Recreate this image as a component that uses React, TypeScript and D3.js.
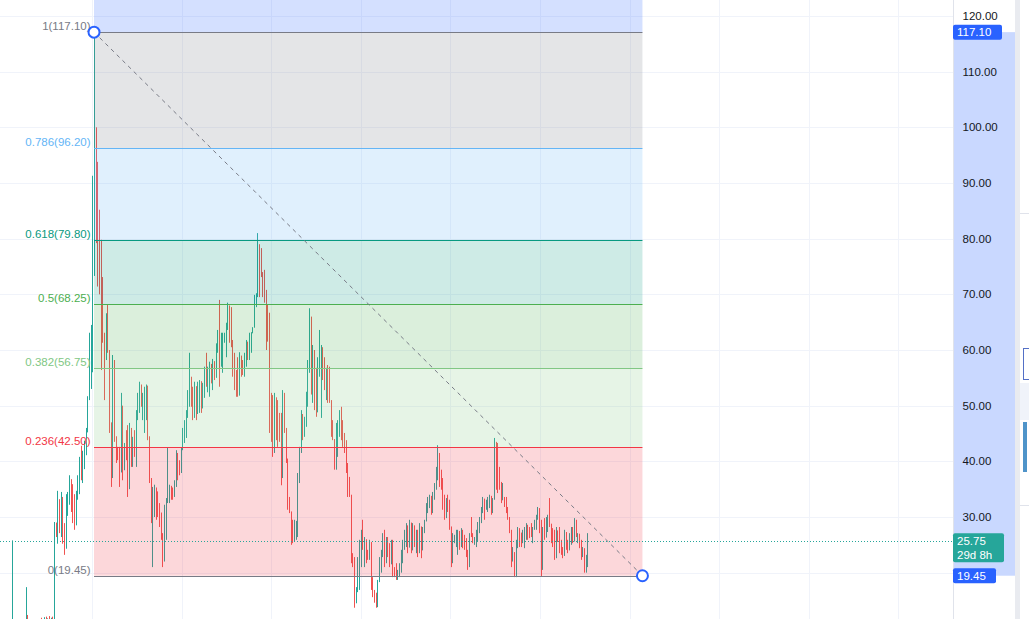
import { useEffect, useRef } from 'react'
import * as d3 from 'd3'

const W = 1029
const H = 619
const PLOT_RIGHT = 953

// candles, one per bar; open of a bar is the previous close
const firstOpen = 8.0
const highs = [
  25.8, 11.5, 10.8, 10.5, 9.8, 10.2, 10.6, 10.1, 17.4, 12.0,
  11.2, 11.6, 10.9, 10.4, 11.0, 11.5, 11.2, 11.9, 11.4, 12.0,
  12.1, 11.8, 12.2, 11.9, 12.1, 29.1, 29.0, 34.7, 32.5, 34.5,
  30.9, 28.9, 34.1, 34.5, 37.5, 36.3, 35.9, 34.1, 34.7, 37.5,
  40.8, 42.8, 41.9, 43.7, 46.0, 51.7, 63.1, 64.5, 91.3, 117.1,
  99.5, 93.8, 85.2, 79.8, 73.1, 63.1, 66.6, 68.1, 59.5, 46.9,
  59.1, 58.2, 44.4, 42.6, 42.6, 52.3, 48.7, 43.3, 45.6, 46.5,
  46.9, 46.0, 44.4, 45.6, 49.2, 52.3, 54.3, 53.4, 52.3, 53.4,
  53.8, 51.9, 44.4, 36.1, 35.4, 35.8, 34.9, 34.4, 32.5, 30.8,
  27.1, 32.2, 33.4, 42.4, 35.8, 35.4, 35.2, 36.6, 42.0, 40.6,
  40.2, 42.4, 46.0, 47.4, 49.2, 52.8, 59.5, 55.2, 53.4, 54.3,
  52.3, 54.3, 54.6, 53.4, 54.1, 57.0, 59.5, 57.0, 57.9, 57.0,
  58.4, 56.8, 61.2, 63.6, 69.0, 63.1, 63.1, 63.1, 64.9, 68.5,
  67.7, 67.7, 61.8, 59.5, 56.4, 58.7, 59.6, 58.7, 58.2, 59.5,
  61.8, 61.3, 63.1, 63.2, 64.1, 69.9, 70.2, 81.0, 78.3, 78.3,
  71.7, 74.4, 70.8, 68.1, 66.7, 52.3, 51.9, 52.3, 51.0, 51.0,
  48.7, 48.7, 52.8, 52.3, 45.6, 38.5, 33.6, 30.7, 29.5, 29.5,
  29.3, 37.9, 42.6, 49.2, 47.4, 48.0, 52.5, 58.2, 67.5, 61.3,
  60.9, 58.6, 56.8, 58.7, 63.6, 60.9, 60.5, 58.7, 56.8, 57.3,
  57.0, 50.5, 47.4, 43.8, 46.9, 47.4, 49.2, 49.8, 47.4, 45.1,
  43.8, 39.7, 37.2, 30.0, 23.5, 22.8, 17.4, 22.8, 25.9, 27.7,
  29.5, 26.4, 25.3, 24.1, 25.9, 23.5, 19.2, 16.9, 16.4, 18.7,
  22.8, 24.1, 27.1, 27.7, 26.4, 26.4, 25.3, 25.9, 25.9, 21.0,
  21.7, 20.5, 21.7, 24.1, 25.9, 27.7, 28.9, 27.7, 29.5, 28.9,
  28.9, 28.2, 27.7, 27.7, 28.9, 26.4, 28.2, 29.5, 32.5, 33.6,
  34.0, 33.6, 34.5, 36.1, 39.0, 42.9, 40.8, 38.5, 37.0, 34.0,
  33.4, 34.0, 33.1, 27.1, 27.1, 26.8, 27.7, 27.7, 27.3, 28.0,
  26.2, 26.8, 26.2, 24.1, 27.1, 30.0, 27.1, 26.4, 27.7, 29.1,
  30.0, 31.8, 33.6, 32.5, 33.1, 33.6, 34.0, 33.6, 33.4, 44.2,
  43.3, 43.3, 39.0, 36.3, 36.1, 33.6, 33.6, 31.8, 30.0, 27.7,
  24.6, 23.7, 25.9, 28.2, 28.0, 27.1, 27.7, 28.2, 28.9, 28.5,
  27.7, 28.9, 28.2, 29.5, 30.4, 31.8, 31.6, 29.5, 28.2, 29.8,
  30.0, 30.4, 33.4, 28.2, 28.0, 27.7, 28.2, 27.3, 28.2, 25.9,
  24.6, 27.7, 26.2, 25.9, 27.1, 28.2, 28.2, 29.8, 29.5, 27.1,
  26.2, 25.9, 24.6, 24.4, 23.2, 27.1,
]
const lows = [
  7.5, 8.0, 7.6, 8.2, 7.9, 8.4, 8.9, 8.5, 9.3, 9.8,
  9.5, 9.9, 9.2, 8.8, 9.6, 10.0, 9.7, 10.3, 9.9, 10.5,
  10.7, 10.2, 10.8, 10.4, 10.9, 10.8, 26.4, 25.2, 27.1, 26.4,
  25.2, 23.2, 24.3, 30.2, 32.2, 30.9, 28.9, 27.7, 28.5, 33.1,
  34.1, 36.6, 36.1, 38.6, 41.1, 45.2, 51.0, 53.0, 56.0, 73.3,
  79.2, 71.4, 70.0, 56.4, 61.3, 51.0, 58.2, 59.5, 45.1, 35.4,
  37.0, 43.5, 39.7, 40.2, 35.4, 38.0, 36.6, 38.4, 40.2, 33.6,
  35.0, 39.0, 39.0, 40.8, 39.0, 47.4, 48.7, 49.8, 47.4, 45.1,
  47.4, 43.8, 36.1, 28.9, 21.0, 30.0, 29.5, 30.0, 28.2, 25.9,
  21.0, 22.0, 25.9, 32.5, 32.5, 33.1, 33.1, 33.6, 35.4, 36.6,
  37.5, 37.9, 42.0, 43.3, 44.2, 47.8, 49.8, 49.8, 47.4, 47.8,
  47.4, 49.2, 48.7, 48.7, 49.8, 51.4, 53.4, 52.4, 51.6, 54.0,
  52.8, 54.6, 57.0, 59.5, 53.4, 57.0, 55.9, 61.3, 58.7, 63.6,
  61.3, 60.5, 55.2, 52.8, 51.6, 51.6, 55.9, 55.2, 55.5, 55.2,
  57.0, 58.2, 58.2, 59.5, 63.1, 67.7, 67.7, 69.5, 69.5, 73.1,
  69.5, 68.5, 60.0, 61.5, 45.1, 43.5, 40.8, 41.5, 43.8, 42.6,
  43.5, 35.7, 37.9, 45.1, 39.7, 31.3, 30.7, 25.0, 25.3, 25.9,
  25.9, 26.4, 36.1, 41.5, 43.8, 44.4, 46.2, 49.8, 55.9, 52.0,
  50.5, 49.2, 48.0, 49.8, 55.2, 47.8, 54.6, 52.8, 51.0, 50.5,
  50.5, 44.4, 43.8, 38.5, 38.5, 40.8, 44.4, 43.8, 42.6, 41.5,
  37.9, 33.6, 33.6, 21.7, 21.0, 13.7, 14.5, 16.5, 16.9, 21.0,
  24.1, 21.0, 21.7, 22.3, 22.3, 16.9, 15.6, 14.6, 13.7, 13.8,
  18.7, 20.0, 22.8, 21.0, 21.7, 22.8, 21.0, 21.7, 19.2, 19.2,
  18.7, 18.7, 19.2, 20.0, 21.7, 24.1, 24.6, 23.5, 25.3, 23.5,
  25.3, 24.6, 23.5, 22.8, 25.3, 22.6, 24.6, 27.1, 29.5, 30.7,
  31.6, 30.4, 30.7, 33.1, 34.9, 36.6, 35.4, 34.9, 31.3, 29.5,
  29.8, 30.9, 27.7, 21.0, 21.7, 25.3, 24.6, 23.2, 24.1, 25.9,
  24.4, 24.1, 22.8, 20.5, 23.7, 26.4, 25.3, 25.0, 24.6, 25.5,
  27.1, 28.9, 30.7, 29.5, 31.3, 30.9, 31.6, 30.4, 30.7, 33.1,
  34.9, 34.3, 34.9, 32.5, 33.1, 31.8, 30.7, 29.5, 27.1, 21.0,
  22.0, 19.2, 19.2, 24.4, 24.6, 24.6, 25.3, 24.4, 25.9, 25.9,
  26.2, 26.4, 25.3, 27.7, 27.7, 29.5, 27.1, 19.3, 24.6, 25.9,
  27.7, 27.3, 28.2, 25.3, 24.6, 22.3, 22.6, 25.5, 23.5, 23.2,
  22.6, 24.1, 24.1, 23.5, 24.4, 25.0, 25.3, 25.9, 26.4, 25.3,
  24.4, 22.3, 22.8, 20.0, 20.0, 21.0,
]
const closes = [
  11.0, 9.0, 10.0, 8.6, 9.4, 9.9, 9.1, 9.8, 12.4, 10.3,
  10.8, 10.1, 9.6, 10.2, 10.7, 10.4, 11.0, 10.6, 11.2, 11.6,
  11.0, 11.5, 11.2, 11.6, 11.3, 27.5, 26.8, 33.2, 28.0, 33.6,
  27.0, 24.6, 33.2, 34.2, 36.8, 35.5, 33.8, 28.5, 34.3, 37.0,
  40.3, 37.5, 41.4, 43.2, 45.6, 51.2, 62.0, 63.8, 88.0, 100.0,
  80.5, 74.0, 71.0, 66.0, 62.0, 58.5, 65.5, 60.0, 47.0, 37.0,
  56.0, 44.5, 42.5, 42.0, 38.0, 50.0, 38.5, 42.8, 41.0, 35.0,
  46.0, 40.0, 44.0, 41.5, 48.5, 51.8, 53.8, 50.3, 52.0, 53.0,
  53.6, 44.5, 37.0, 29.5, 34.5, 35.3, 34.6, 31.0, 29.0, 26.5,
  22.0, 31.5, 33.0, 35.0, 35.6, 35.3, 35.0, 36.3, 41.5, 39.5,
  38.0, 42.0, 45.6, 47.0, 48.8, 52.3, 54.5, 50.5, 48.0, 53.5,
  48.5, 53.8, 54.4, 49.5, 53.6, 56.5, 54.0, 56.5, 57.5, 55.0,
  58.0, 55.0, 61.0, 63.3, 58.0, 62.5, 63.0, 63.1, 64.5, 68.0,
  62.5, 61.0, 56.0, 53.5, 52.0, 51.8, 59.0, 56.0, 55.6, 59.0,
  61.5, 61.2, 62.8, 63.0, 64.0, 69.5, 70.0, 79.0, 77.0, 74.0,
  71.0, 69.0, 66.0, 62.0, 46.0, 44.0, 41.5, 51.5, 50.8, 44.0,
  43.8, 37.0, 51.5, 46.0, 40.5, 32.0, 31.0, 25.8, 25.5, 28.5,
  29.2, 37.0, 42.0, 48.5, 44.5, 47.5, 52.0, 57.5, 66.0, 53.0,
  60.0, 50.0, 48.8, 58.0, 60.0, 60.5, 56.0, 54.0, 56.4, 51.5,
  51.0, 45.0, 44.0, 39.0, 46.5, 47.0, 48.8, 44.2, 43.0, 42.0,
  38.5, 34.2, 34.0, 22.5, 21.5, 15.0, 17.0, 22.3, 25.5, 27.0,
  24.8, 26.0, 22.5, 22.3, 25.5, 18.0, 16.2, 15.0, 14.2, 18.3,
  22.5, 23.8, 26.8, 21.8, 26.0, 23.2, 21.5, 25.5, 20.0, 19.6,
  19.1, 20.3, 21.5, 23.8, 25.5, 27.3, 28.5, 24.5, 29.0, 24.0,
  28.5, 25.0, 27.4, 23.5, 28.3, 24.0, 27.8, 29.2, 32.2, 33.2,
  33.8, 31.0, 34.2, 35.8, 38.6, 41.5, 36.5, 35.3, 32.0, 30.0,
  33.0, 31.5, 28.3, 21.8, 25.5, 26.6, 27.3, 27.5, 24.6, 27.7,
  24.8, 24.4, 23.3, 21.0, 26.8, 26.6, 25.6, 26.2, 27.4, 28.8,
  29.8, 31.5, 33.3, 32.2, 32.9, 33.4, 33.8, 31.0, 33.1, 43.5,
  41.0, 38.5, 35.5, 33.0, 33.2, 32.2, 31.0, 29.8, 27.5, 22.0,
  23.5, 19.8, 25.5, 27.9, 27.2, 26.9, 27.5, 28.0, 28.6, 28.2,
  27.4, 26.6, 28.0, 29.3, 30.1, 31.5, 27.6, 20.5, 27.8, 26.3,
  29.7, 30.1, 28.8, 25.8, 25.0, 22.9, 27.6, 27.0, 24.0, 23.6,
  23.0, 27.3, 24.5, 24.0, 26.8, 27.9, 25.6, 29.5, 26.8, 27.0,
  25.2, 22.8, 24.3, 20.6, 21.5, 25.75,
]

// fibonacci retracement drawn from the top bar to a point in the future
const fibStartBar = 49
const fibEndBar = 378
const fibLevels = [0, 0.236, 0.382, 0.5, 0.618, 0.786, 1, 1.618]
const fibPrices = [19.45, 42.5, 56.75, 68.25, 79.8, 96.2, 117.1, 177.45]
const fibColors = ['#787b86', '#f23645', '#81c784', '#4caf50', '#089981', '#64b5f6', '#787b86', '#2962ff']

// grid lines at every tick, labels only where the scale shows them
const priceTicks = [20, 30, 40, 50, 60, 70, 80, 90, 100, 110, 120]
const priceLabels = [30, 40, 50, 60, 70, 80, 90, 100, 110, 120]
const lastPrice = 25.75
const countdown = '29d 8h'

// time grid (bar units)
const timeGridStart = 47.85
const timeGridStep = 53.75
const timeGridCount = 10

const UP = '#26a69a'
const DOWN = '#ef5350'
const FONT = '"Liberation Sans", Arial, sans-serif'

export default function App() {
  const svgRef = useRef<SVGSVGElement>(null)

  useEffect(() => {
    if (!svgRef.current) return
    const svg = d3.select(svgRef.current)
    svg.selectAll('*').remove()
    svg.attr('width', W).attr('height', H).attr('viewBox', `0 0 ${W} ${H}`)

    const x = d3.scaleLinear().domain([-7.4, 564.3]).range([0, PLOT_RIGHT])
    const y = d3.scaleLinear().domain([30, 120]).range([517, 16])

    svg.append('rect').attr('width', W).attr('height', H).attr('fill', '#ffffff')

    svg.append('defs').append('clipPath').attr('id', 'plot-clip')
      .append('rect').attr('width', PLOT_RIGHT).attr('height', H)

    const plot = svg.append('g').attr('clip-path', 'url(#plot-clip)')

    // grid
    priceTicks.forEach(t => {
      plot.append('line')
        .attr('x1', 0).attr('x2', PLOT_RIGHT)
        .attr('y1', Math.round(y(t)) + 0.5).attr('y2', Math.round(y(t)) + 0.5)
        .attr('stroke', '#f0f3fa')
    })
    d3.range(timeGridCount).forEach(k => {
      const gx = Math.round(x(timeGridStart + k * timeGridStep)) + 0.5
      plot.append('line')
        .attr('x1', gx).attr('x2', gx).attr('y1', 0).attr('y2', H)
        .attr('stroke', '#f0f3fa')
    })

    // candles (bars are ~1.7px apart, so each one is a single pixel column)
    const bars = closes.map((c, i) => {
      const o = i === 0 ? firstOpen : closes[i - 1]
      return {
        i, o, c,
        h: Math.max(highs[i], o, c),
        l: Math.min(lows[i], o, c),
      }
    })
    const cg = plot.append('g')
    bars.forEach(b => {
      const col = b.c >= b.o ? UP : DOWN
      const cx = Math.round(x(b.i)) + 0.5
      cg.append('line')
        .attr('x1', cx).attr('x2', cx)
        .attr('y1', y(b.h)).attr('y2', y(b.l))
        .attr('stroke', col).attr('stroke-width', 1)
    })

    // fib fills and levels
    const fx0 = x(fibStartBar)
    const fx1 = x(fibEndBar)
    const fg = plot.append('g')
    for (let k = 0; k < fibLevels.length - 1; k++) {
      const yTop = y(fibPrices[k + 1])
      const yBot = y(fibPrices[k])
      fg.append('rect')
        .attr('x', fx0).attr('width', fx1 - fx0)
        .attr('y', yTop).attr('height', yBot - yTop)
        .attr('fill', fibColors[k + 1]).attr('fill-opacity', 0.2)
    }
    fibLevels.forEach((lv, k) => {
      if (lv > 1) return
      const ly = Math.round(y(fibPrices[k])) + 0.5
      fg.append('line')
        .attr('x1', fx0).attr('x2', fx1).attr('y1', ly).attr('y2', ly)
        .attr('stroke', fibColors[k]).attr('stroke-width', 1)
      fg.append('text')
        .attr('x', fx0 - 3.5).attr('y', ly - 3)
        .attr('text-anchor', 'end')
        .attr('font-family', FONT).attr('font-size', 11.5)
        .attr('fill', fibColors[k])
        .text(`${lv}(${fibPrices[k].toFixed(2)})`)
    })

    // last price dotted line
    const lpY = Math.round(y(lastPrice)) + 0.5
    plot.append('line')
      .attr('x1', 0).attr('x2', PLOT_RIGHT).attr('y1', lpY).attr('y2', lpY)
      .attr('stroke', UP).attr('stroke-dasharray', '1 2')

    // trend line of the retracement
    const p0 = [fx0, y(fibPrices[6])]
    const p1 = [fx1, y(fibPrices[0])]
    plot.append('line')
      .attr('x1', p0[0]).attr('y1', p0[1]).attr('x2', p1[0]).attr('y2', p1[1])
      .attr('stroke', '#787b86').attr('stroke-dasharray', '4 4')
    ;[p0, p1].forEach(p => {
      plot.append('circle')
        .attr('cx', p[0]).attr('cy', p[1]).attr('r', 5.5)
        .attr('fill', '#ffffff').attr('stroke', '#2962ff').attr('stroke-width', 2)
    })

    // price axis
    const ax = svg.append('g')
    ax.append('line')
      .attr('x1', PLOT_RIGHT + 0.5).attr('x2', PLOT_RIGHT + 0.5).attr('y1', 0).attr('y2', H)
      .attr('stroke', '#e0e3eb')
    ax.append('rect')
      .attr('x', PLOT_RIGHT + 1).attr('width', 61)
      .attr('y', y(fibPrices[6])).attr('height', y(fibPrices[0]) - y(fibPrices[6]))
      .attr('fill', '#2962ff').attr('fill-opacity', 0.25)
    priceLabels.forEach(t => {
      ax.append('text')
        .attr('x', 962.5).attr('y', y(t) + 4)
        .attr('font-family', FONT).attr('font-size', 11.5)
        .attr('fill', '#131722')
        .text(t.toFixed(2))
    })

    const tag = (price: number, w: number, fill: string, lines: string[]) => {
      const cy = y(price)
      const hgt = 15 + (lines.length - 1) * 14
      ax.append('rect')
        .attr('x', PLOT_RIGHT).attr('y', cy - 7.5).attr('width', w).attr('height', hgt)
        .attr('rx', 2).attr('fill', fill)
      lines.forEach((s, j) => {
        ax.append('text')
          .attr('x', PLOT_RIGHT + 4).attr('y', cy + 4 + j * 14)
          .attr('font-family', FONT).attr('font-size', 11.5)
          .attr('fill', '#ffffff')
          .text(s)
      })
    }
    tag(fibPrices[6], 49, '#2962ff', [fibPrices[6].toFixed(2)])
    tag(fibPrices[0], 43, '#2962ff', [fibPrices[0].toFixed(2)])
    tag(lastPrice, 51, UP, [lastPrice.toFixed(2), countdown])

    // right toolbar edge
    const tb = svg.append('g')
    tb.append('rect').attr('x', 1015).attr('y', 0).attr('width', 5).attr('height', H).attr('fill', '#e9ebf0')
    tb.append('line').attr('x1', 1020).attr('x2', W).attr('y1', 213.5).attr('y2', 213.5).attr('stroke', '#e0e3eb')
    tb.append('rect').attr('x', 1023.5).attr('y', 348.5).attr('width', 8).attr('height', 31)
      .attr('fill', '#ffffff').attr('stroke', '#5470c6')
    tb.append('rect').attr('x', 1020).attr('y', 383).attr('width', 9).attr('height', 37).attr('fill', '#f0f3fa')
    tb.append('rect').attr('x', 1023).attr('y', 422).attr('width', 4).attr('height', 50).attr('fill', '#4f94c9')
    tb.append('line').attr('x1', 1020).attr('x2', W).attr('y1', 505.5).attr('y2', 505.5).attr('stroke', '#e0e3eb')
  }, [])

  return (
    <svg
      ref={svgRef}
      style={{ position: 'absolute', left: 0, top: 0, display: 'block' }}
    />
  )
}
